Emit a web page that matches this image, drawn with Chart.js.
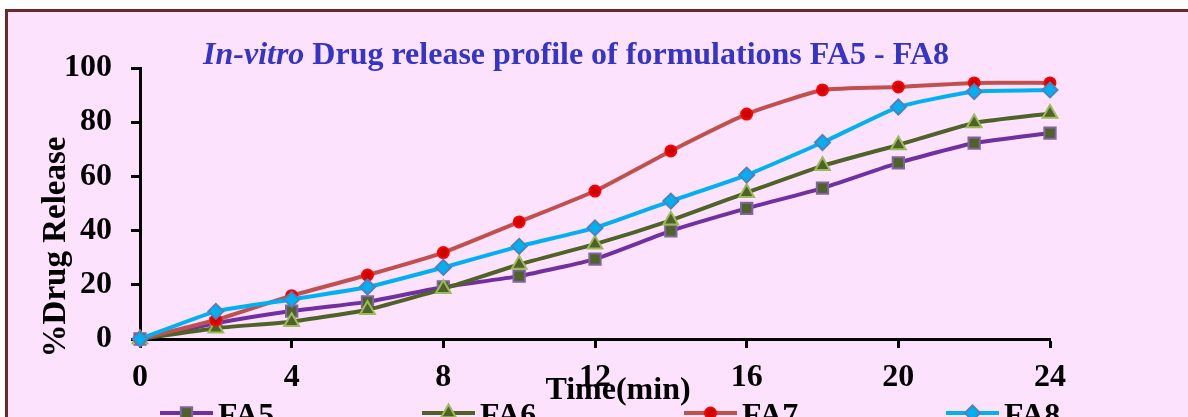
<!DOCTYPE html>
<html>
<head>
<meta charset="utf-8">
<script src="https://cdn.jsdelivr.net/npm/chart.js"></script>
<style>
  body { margin: 0; background: #ffffff; overflow: hidden; }
  #frame {
    position: absolute; left: 5px; top: 9px; width: 1200px; height: 420px;
    border: 3px solid #6b2a2a; background: #fde2fd;
  }
  #myChart { position: absolute; left: 0; top: 0; }
</style>
</head>
<body>
<div id="frame"></div>
<canvas id="myChart" width="1188" height="417"></canvas>
<script>
// time points (min)
const times = [0, 2, 4, 6, 8, 10, 12, 14, 16, 18, 20, 22, 24];
// % drug release per formulation
const fa5 = [0, 5.8, 10.3, 13.7, 19.2, 23.2, 29.5, 39.9, 48.2, 55.7, 65.0, 72.3, 76.0];
const fa6 = [0, 4.0, 6.4, 10.8, 18.5, 27.5, 35.0, 43.8, 54.0, 63.9, 71.6, 79.7, 83.2];
const fa7 = [0, 7.0, 16.0, 23.6, 31.9, 43.2, 54.6, 69.4, 83.0, 91.9, 93.0, 94.5, 94.5];
const fa8 = [0, 10.2, 14.6, 19.2, 26.4, 34.2, 41.0, 50.9, 60.5, 72.5, 85.6, 91.3, 91.9];
const seriesNames = ['FA5', 'FA6', 'FA7', 'FA8'];
const xTicks = [0, 4, 8, 12, 16, 20, 24];

const ctx = document.getElementById('myChart').getContext('2d');
const serif = "'Liberation Serif', 'Times New Roman', serif";

const styles = [
  { line: '#7030a0', fill: '#4f6228', border: '#8064a2', shape: 'rect', r: 8 },
  { line: '#4f6228', fill: '#4f6228', border: '#9bbb59', shape: 'triangle', r: 8.5 },
  { line: '#c0504d', fill: '#d00000', border: '#ff0000', shape: 'circle', r: 5.5 },
  { line: '#00b0f0', fill: '#00b0f0', border: '#4f81bd', shape: 'rectRot', r: 7.5 }
];
const values = [fa5, fa6, fa7, fa8];

function makeDataset(i){
  const s = styles[i];
  return {
    label: seriesNames[i],
    data: times.map((t, k) => ({ x: t, y: values[i][k] })),
    borderColor: s.line,
    backgroundColor: s.fill,
    borderWidth: 4,
    pointStyle: s.shape,
    pointRadius: s.r,
    pointBackgroundColor: s.fill,
    pointBorderColor: s.border,
    pointBorderWidth: 2,
    tension: 0.15,
    clip: false,
    order: 3 - i
  };
}

function drawMarker(c, s, x, y){
  c.save();
  c.fillStyle = s.fill;
  c.strokeStyle = s.border;
  c.lineWidth = 2;
  c.beginPath();
  const r = s.r;
  if (s.shape === 'rect') {
    const h = Math.SQRT1_2 * r;
    c.rect(x - h, y - h, 2 * h, 2 * h);
  } else if (s.shape === 'triangle') {
    const side = r * 3 / Math.sqrt(3), h = side * Math.sqrt(3) / 2;
    c.moveTo(x - side / 2, y + h / 3);
    c.lineTo(x + side / 2, y + h / 3);
    c.lineTo(x, y - 2 * h / 3);
    c.closePath();
  } else if (s.shape === 'circle') {
    c.arc(x, y, r, 0, Math.PI * 2);
  } else {
    c.moveTo(x - r, y); c.lineTo(x, y - r); c.lineTo(x + r, y); c.lineTo(x, y + r);
    c.closePath();
  }
  c.fill();
  c.stroke();
  c.restore();
}

const decorations = {
  id: 'decorations',
  afterDraw(chart){
    const c = chart.ctx;
    c.save();
    // title: bold italic part + bold part
    const t1 = 'In-vitro';
    const t2 = ' Drug release profile of formulations FA5 - FA8';
    c.fillStyle = '#3434c8';
    c.textBaseline = 'alphabetic';
    c.font = 'italic bold 32px ' + serif;
    const w1 = c.measureText(t1).width;
    c.font = 'bold 32px ' + serif;
    const w2 = c.measureText(t2).width;
    let tx = 576 - (w1 + w2) / 2;
    c.font = 'italic bold 32px ' + serif;
    c.fillText(t1, tx, 64);
    c.font = 'bold 32px ' + serif;
    c.fillText(t2, tx + w1, 64);

    // axis titles
    c.fillStyle = '#000000';
    c.font = 'bold 32px ' + serif;
    c.textAlign = 'center';
    c.textBaseline = 'middle';
    c.fillText('Time(min)', 618, 391);
    c.save();
    c.translate(56, 247);
    c.rotate(-Math.PI / 2);
    c.font = 'bold 33px ' + serif;
    c.fillText('%Drug Release', 0, 0);
    c.restore();

    // legend row
    c.textAlign = 'left';
    c.textBaseline = 'alphabetic';
    c.font = 'bold 32px ' + serif;
    for (let i = 0; i < seriesNames.length; i++) {
      const x0 = 160 + i * 262;
      const y0 = 413;
      c.strokeStyle = styles[i].line;
      c.lineWidth = 4;
      c.beginPath();
      c.moveTo(x0, y0);
      c.lineTo(x0 + 53, y0);
      c.stroke();
      drawMarker(c, styles[i], x0 + 26.5, y0);
      c.fillStyle = '#000000';
      c.fillText(seriesNames[i], x0 + 58, 425);
    }
    c.restore();
  }
};

const myChart = new Chart(ctx, {
  type: 'line',
  data: {
    datasets: [0, 1, 2, 3].map(makeDataset)
  },
  options: {
    responsive: false,
    animation: false,
    layout: { padding: { top: 68, right: 138, left: 0, bottom: 0 } },
    plugins: {
      legend: { display: false },
      tooltip: { enabled: false },
      title: { display: false }
    },
    scales: {
      x: {
        type: 'linear',
        min: 0,
        max: 24,
        afterFit: function(scale){ scale.height = 78; },
        afterBuildTicks: function(scale){ scale.ticks = xTicks.map(v => ({ value: v })); },
        border: { color: '#000000', width: 3 },
        grid: { drawOnChartArea: false, color: '#000000', tickLength: 9, tickWidth: 3 },
        ticks: { color: '#000000', padding: 11, maxRotation: 0, font: { family: serif, size: 32, weight: 'bold' } }
      },
      y: {
        min: 0,
        max: 100,
        afterFit: function(scale){ scale.width = 140; },
        border: { color: '#000000', width: 3 },
        grid: { drawOnChartArea: false, color: '#000000', tickLength: 9, tickWidth: 3 },
        ticks: { stepSize: 20, color: '#000000', padding: 19, font: { family: serif, size: 32, weight: 'bold' } }
      }
    }
  },
  plugins: [decorations]
});
</script>
</body>
</html>
